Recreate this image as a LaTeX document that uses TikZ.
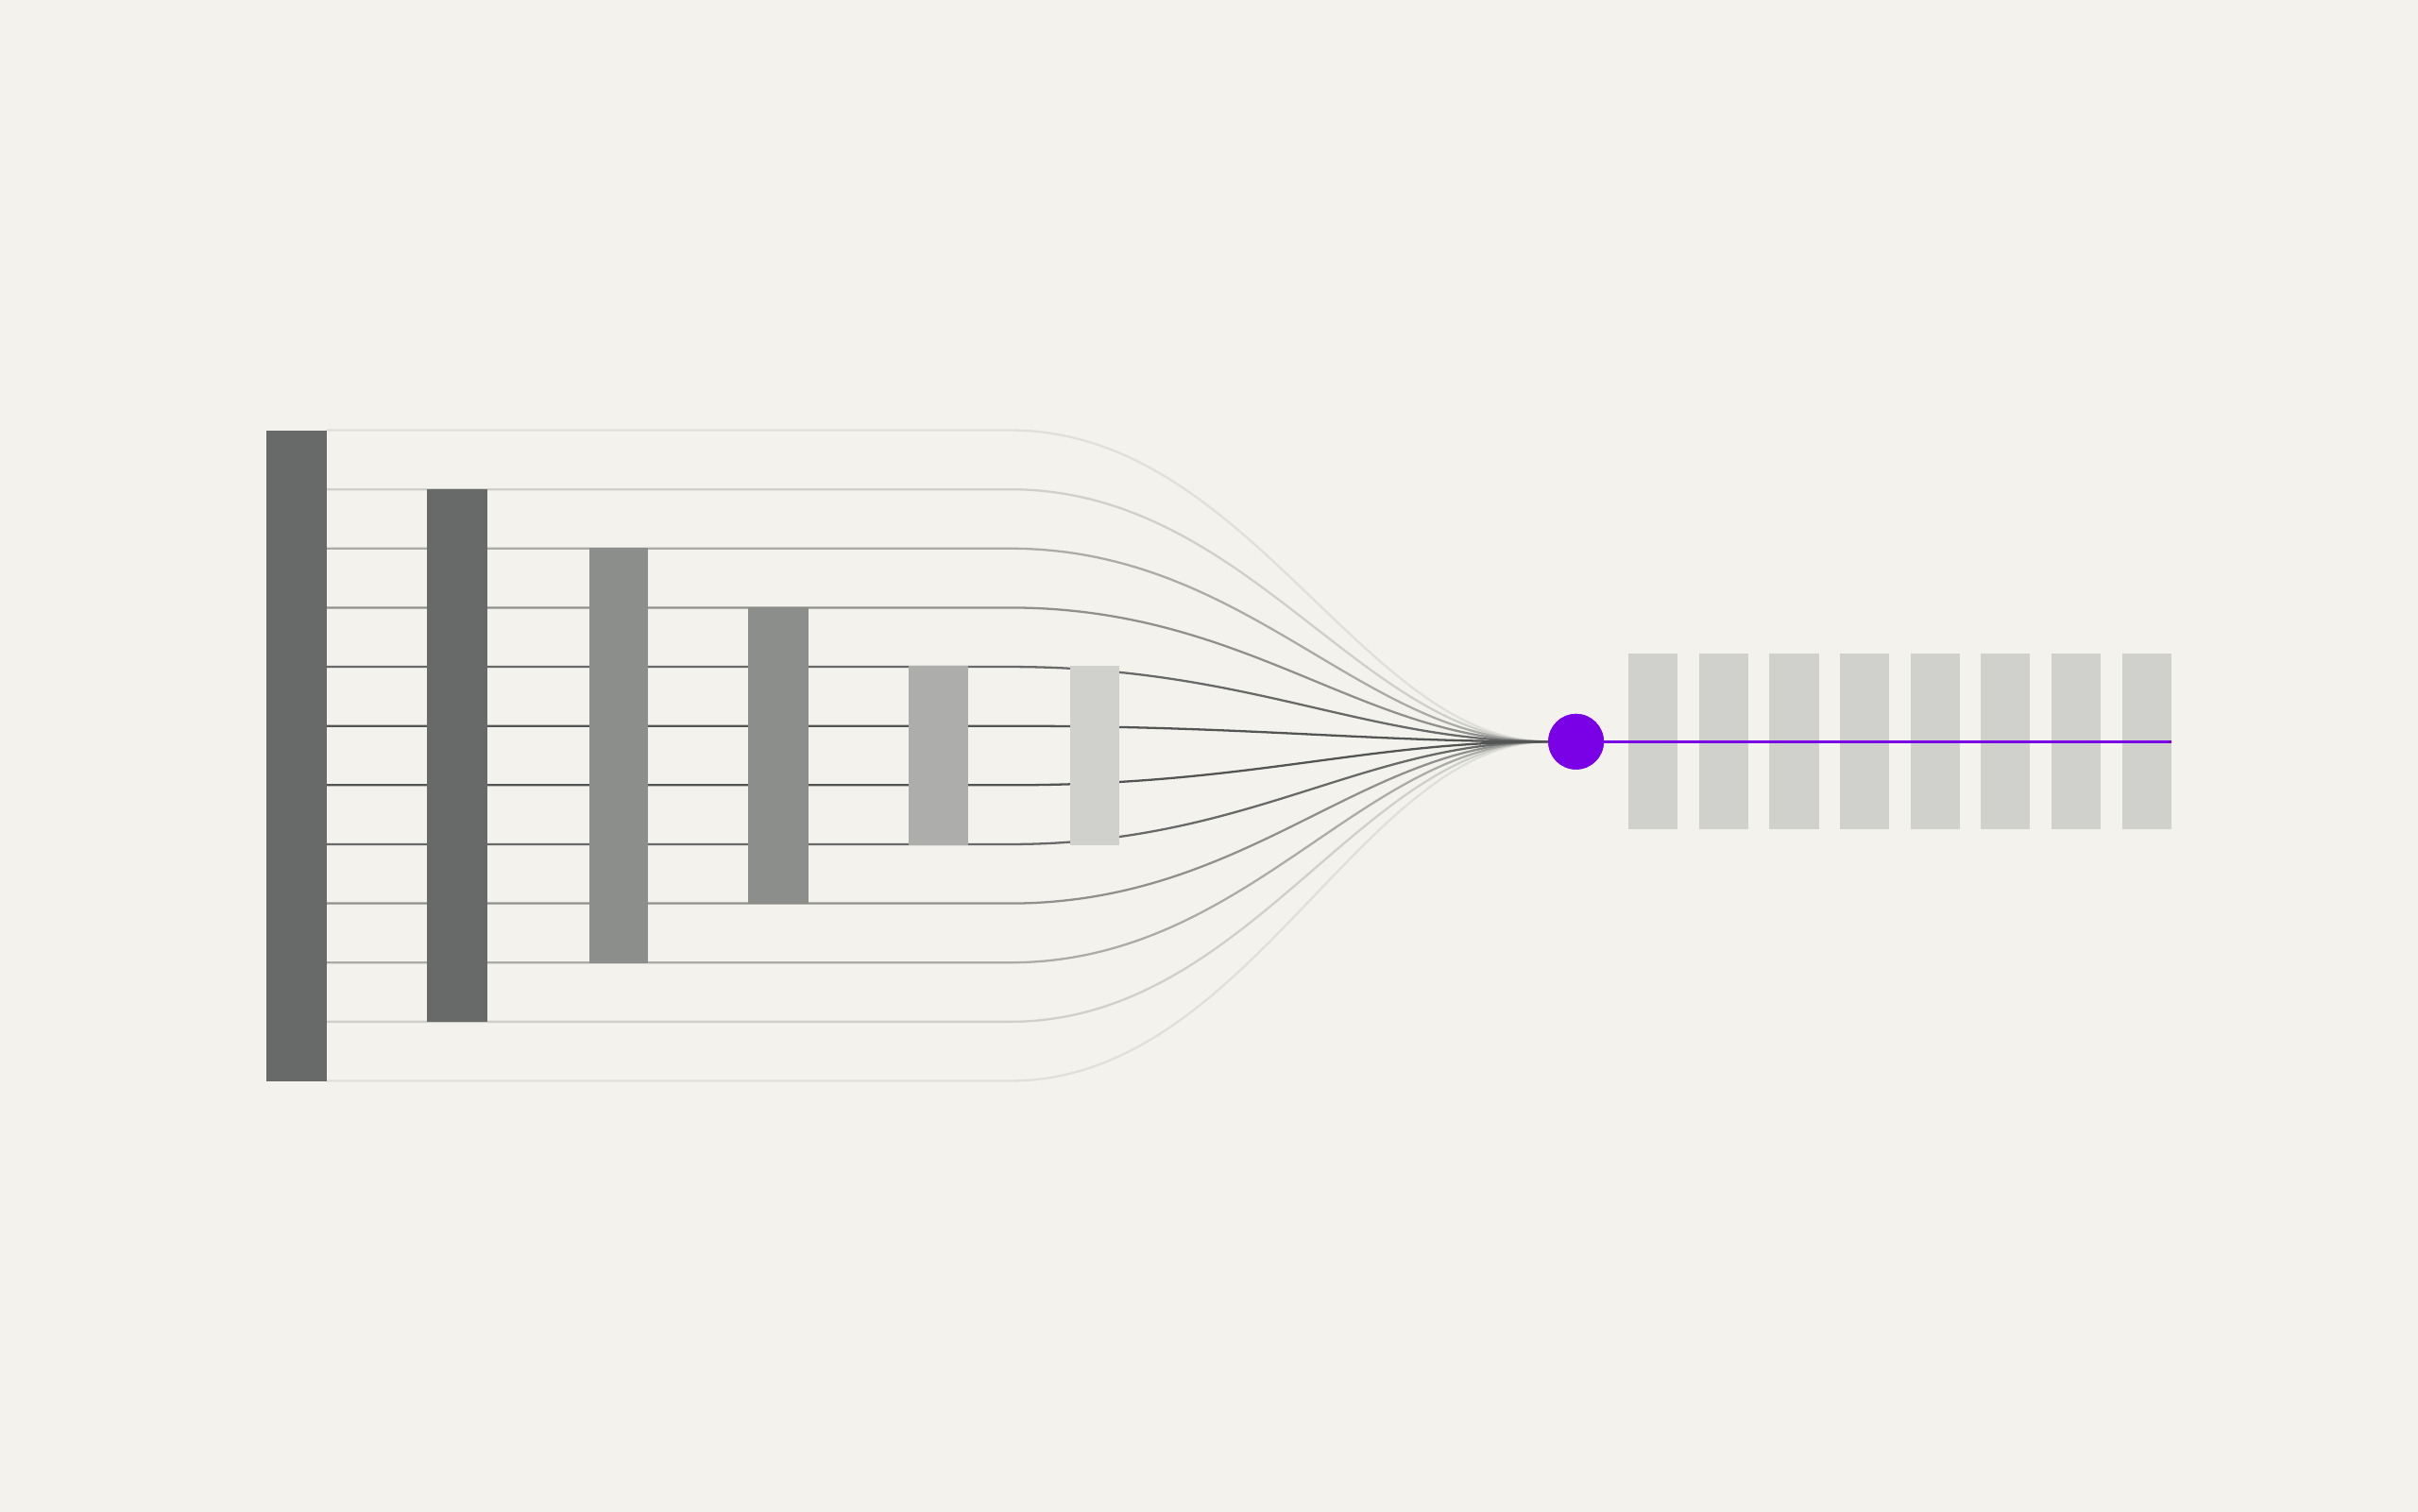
\documentclass[tikz,border=0pt]{standalone}
\usepackage{tikz}
\definecolor{bg}{HTML}{F3F2EC}
\definecolor{bardark}{HTML}{686A6A}
\definecolor{barmid}{HTML}{8C8E8C}
\definecolor{barlight}{HTML}{ADADAB}
\definecolor{barpale}{HTML}{D0D1CD}
\definecolor{violet}{HTML}{7A00E6}
\definecolor{lc0}{HTML}{E0E0DB}
\definecolor{lc1}{HTML}{CFCFCB}
\definecolor{lc2}{HTML}{ABACA8}
\definecolor{lc3}{HTML}{90918E}
\definecolor{lc4}{HTML}{686A69}
\definecolor{lc5}{HTML}{535554}
\tikzset{
  barbox/.style={draw=none, inner sep=0pt, outer sep=0pt, rectangle},
  wire/.style={line width=1.4pt, line cap=round},
}
\begin{document}
\begin{tikzpicture}[x=1pt, y=-1pt]
\useasboundingbox (0,0) rectangle (1568,980);
\fill[bg] (-10,-10) rectangle (1578,990);

% hub
\node[circle, fill=violet, draw=none, minimum size=36pt, inner sep=0pt] (hub) at (1022,481) {};
\coordinate (conv) at (1004,481);

% wires
\foreach \k/\c in {0/lc0,11/lc0,1/lc1,10/lc1,2/lc2,9/lc2,3/lc3,8/lc3,4/lc4,7/lc4,5/lc5,6/lc5}{
  \pgfmathsetmacro{\yy}{279+38.3636*\k}
  \coordinate (r\k) at (212,\yy);
  \coordinate (s\k) at (655,\yy);
  \draw[wire, draw=\c] (r\k) -- (s\k) .. controls +(155,0) and +(-120,0) .. (conv);
}

% right bars
\foreach \i in {0,...,7}{
  \node[barbox, fill=barpale, minimum width=32pt, minimum height=114pt] (q\i) at (1072+45.71*\i,481) {};
}
\coordinate (pend) at (1408,481);
\draw[line width=1.5pt, draw=violet] (hub.east) -- (pend);
\node[circle, fill=violet, draw=none, minimum size=36pt, inner sep=0pt] at (hub) {};

% left bars
\node[barbox, fill=bardark, minimum width=39pt, minimum height=422pt] (b1) at (192.5,490) {};
\node[barbox, fill=bardark, minimum width=39pt, minimum height=346pt] (b2) at (296.5,490) {};
\node[barbox, fill=barmid, minimum width=38pt, minimum height=270pt] (b3) at (401,490) {};
\node[barbox, fill=barmid, minimum width=39pt, minimum height=192pt] (b4) at (504.5,490) {};
\node[barbox, fill=barlight, minimum width=39pt, minimum height=116pt] (b5) at (608.5,490) {};
\node[barbox, fill=barpale, minimum width=32pt, minimum height=116pt] (b6) at (710,490) {};
\end{tikzpicture}
\end{document}
